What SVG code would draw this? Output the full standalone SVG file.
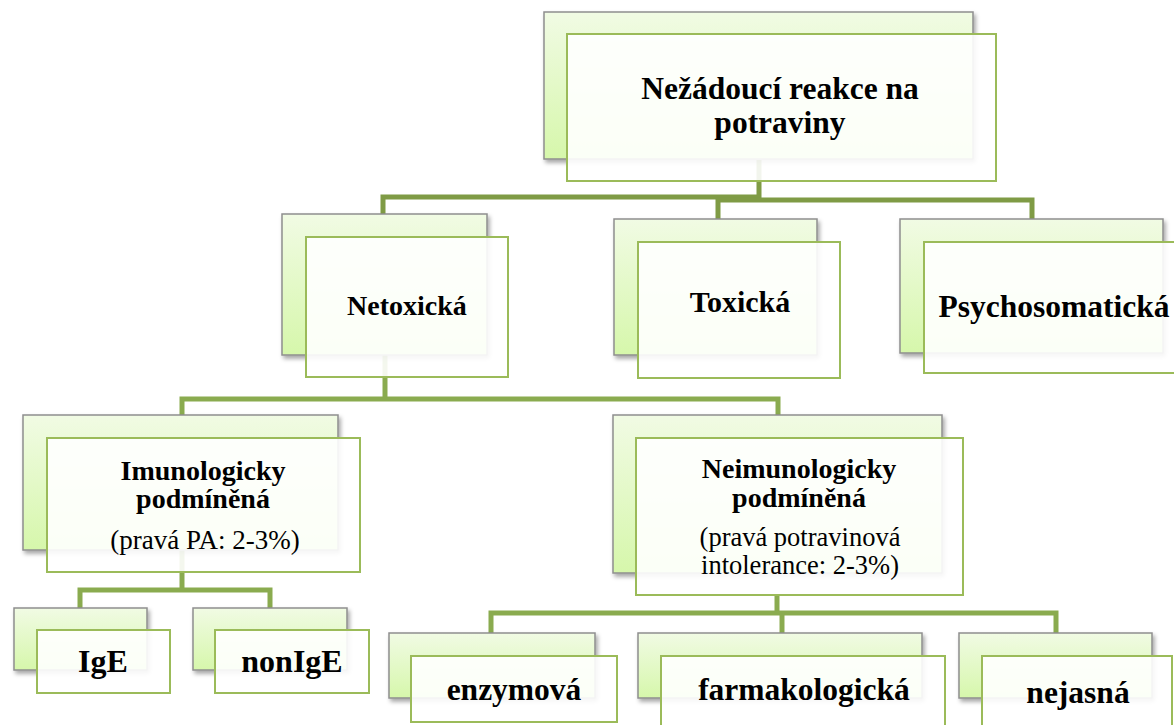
<svg xmlns="http://www.w3.org/2000/svg" width="1174" height="725" viewBox="0 0 1174 725">
<defs>
<linearGradient id="gb" x1="0" y1="0" x2="0" y2="1">
<stop offset="0" stop-color="#f1fbe4"/>
<stop offset="1" stop-color="#d6f7ab"/>
</linearGradient>
<filter id="sh" x="-10%" y="-10%" width="125%" height="130%">
<feDropShadow dx="2" dy="3" stdDeviation="2" flood-color="#000" flood-opacity="0.35"/>
</filter>
</defs>
<style>
.back{fill:url(#gb);stroke:#8e8e8e;stroke-width:1.5;filter:url(#sh)}
.front{fill:#ffffff;fill-opacity:0.9;stroke:#9bbb59;stroke-width:2}
.conn{fill:none;stroke:#8aab4f;stroke-width:5}
.conn1{fill:none;stroke:#7f9b45;stroke-width:5}
text{font-family:"Liberation Serif","Times New Roman",serif;fill:#000;text-anchor:middle}
.b{font-weight:bold}
</style>
<rect width="1174" height="725" fill="#ffffff"/>
<g id="connectors">
<polyline class="conn1" points="383,214 383,197 759,197 759,160"/>
<polyline class="conn1" points="718,220 718,200 1032,200 1032,219"/>
<polyline class="conn" points="385,355 385,399"/>
<polyline class="conn" points="182,415 182,399 778,399 778,415"/>
<polyline class="conn" points="182,550 182,590"/>
<polyline class="conn" points="80,608 80,590 270,590 270,608"/>
<polyline class="conn" points="777,595 777,613"/>
<polyline class="conn" points="491,633 491,613 1056,613 1056,633"/>
<polyline class="conn" points="782,613 782,633"/>
</g>
<g id="n-root">
<rect class="back" x="544" y="12" width="429" height="147"/>
<rect class="front" x="567" y="34" width="429" height="147"/>
<text class="b" x="780" y="99" font-size="31.5">Nežádoucí reakce na</text>
<text class="b" x="780" y="133" font-size="31.5">potraviny</text>
</g>
<g id="n-netoxicka">
<rect class="back" x="282" y="214" width="205" height="141"/>
<rect class="front" x="306" y="237" width="202" height="140"/>
<text class="b" x="407" y="315" font-size="28">Netoxická</text>
</g>
<g id="n-toxicka">
<rect class="back" x="614" y="219" width="203" height="136"/>
<rect class="front" x="638" y="242" width="202" height="136"/>
<text class="b" x="740" y="312" font-size="30">Toxická</text>
</g>
<g id="n-psycho">
<rect class="back" x="900" y="219" width="263" height="134"/>
<rect class="front" x="924" y="242" width="263" height="131"/>
<text class="b" x="1054" y="317" font-size="31.5">Psychosomatická</text>
</g>
<g id="n-imuno">
<rect class="back" x="23" y="415" width="315" height="135"/>
<rect class="front" x="47" y="438" width="313" height="134"/>
<text class="b" x="203" y="480" font-size="28">Imunologicky</text>
<text class="b" x="203" y="508" font-size="28">podmíněná</text>
<text x="205" y="549" font-size="27">(pravá PA: 2-3%)</text>
</g>
<g id="n-neimuno">
<rect class="back" x="613" y="415" width="329" height="158"/>
<rect class="front" x="636" y="438" width="327" height="157"/>
<text class="b" x="799" y="478" font-size="28">Neimunologicky</text>
<text class="b" x="799" y="507" font-size="28">podmíněná</text>
<text x="800" y="546" font-size="26.5">(pravá potravinová</text>
<text x="800" y="574" font-size="26.5">intolerance: 2-3%)</text>
</g>
<g id="n-ige">
<rect class="back" x="14" y="608" width="133" height="62"/>
<rect class="front" x="37" y="630" width="133" height="63"/>
<text class="b" x="103" y="672" font-size="32">IgE</text>
</g>
<g id="n-nonige">
<rect class="back" x="193" y="608" width="154" height="62"/>
<rect class="front" x="215" y="630" width="154" height="63"/>
<text class="b" x="292" y="672" font-size="32">nonIgE</text>
</g>
<g id="n-enzymova">
<rect class="back" x="389" y="633" width="206" height="65"/>
<rect class="front" x="411" y="656" width="206" height="66"/>
<text class="b" x="514" y="700" font-size="31.5">enzymová</text>
</g>
<g id="n-farmako">
<rect class="back" x="638" y="633" width="284" height="65"/>
<rect class="front" x="661" y="656" width="284" height="70"/>
<text class="b" x="804" y="700" font-size="31.5">farmakologická</text>
</g>
<g id="n-nejasna">
<rect class="back" x="959" y="633" width="193" height="65"/>
<rect class="front" x="982" y="656" width="190" height="70"/>
<text class="b" x="1078" y="703" font-size="31.5">nejasná</text>
</g>
</svg>
